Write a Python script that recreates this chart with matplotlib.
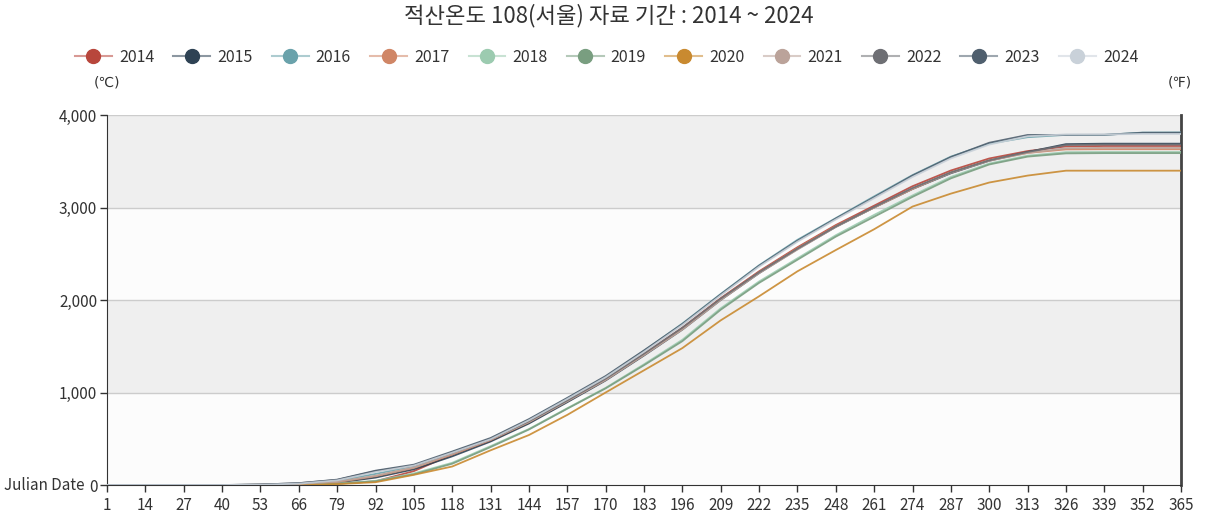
import numpy as np
import matplotlib
matplotlib.use('Agg')
import matplotlib.pyplot as plt
from matplotlib.lines import Line2D

plt.rcParams['font.family'] = ['Noto Sans CJK KR', 'DejaVu Sans']

# julian days read at the x tick positions
days = [1, 14, 27, 40, 53, 66, 79, 92, 105, 118, 131, 144, 157, 170, 183,
        196, 209, 222, 235, 248, 261, 274, 287, 300, 313, 326, 339, 352, 365]

years = ['2014', '2015', '2016', '2017', '2018', '2019',
         '2020', '2021', '2022', '2023', '2024']

# accumulated temperature (deg C days)
gdd_2014 = [0, 0, 0, 0, 0, 3, 15, 40, 150, 330, 480, 675, 905, 1140, 1420, 1700, 2020, 2310, 2570, 2810, 3020, 3230, 3400, 3530, 3610, 3660, 3665, 3665, 3665]
gdd_2015 = [0, 0, 0, 0, 2, 8, 25, 80, 170, 310, 470, 665, 895, 1130, 1400, 1680, 2000, 2290, 2550, 2790, 3000, 3200, 3370, 3505, 3600, 3685, 3690, 3690, 3690]
gdd_2016 = [0, 0, 0, 0, 3, 15, 45, 120, 205, 355, 500, 705, 935, 1170, 1450, 1745, 2065, 2375, 2650, 2885, 3120, 3350, 3550, 3690, 3760, 3785, 3785, 3810, 3812]
gdd_2017 = [0, 0, 0, 0, 2, 10, 30, 95, 185, 330, 485, 680, 910, 1140, 1410, 1690, 2010, 2300, 2560, 2800, 3000, 3200, 3380, 3510, 3590, 3628, 3630, 3630, 3630]
gdd_2018 = [0, 0, 0, 0, 1, 5, 15, 45, 125, 240, 420, 605, 830, 1050, 1305, 1570, 1910, 2200, 2450, 2700, 2920, 3130, 3330, 3475, 3560, 3598, 3600, 3600, 3600]
gdd_2019 = [0, 0, 0, 0, 1, 5, 12, 40, 115, 230, 410, 600, 825, 1045, 1295, 1555, 1895, 2185, 2435, 2685, 2900, 3115, 3315, 3465, 3550, 3585, 3588, 3588, 3588]
gdd_2020 = [0, 0, 0, 0, 1, 3, 10, 30, 110, 200, 375, 540, 758, 1000, 1240, 1480, 1780, 2040, 2310, 2540, 2765, 3010, 3150, 3270, 3345, 3398, 3398, 3398, 3398]
gdd_2021 = [0, 0, 0, 0, 3, 12, 35, 100, 190, 335, 490, 680, 905, 1135, 1405, 1680, 2000, 2290, 2545, 2790, 3000, 3205, 3375, 3505, 3590, 3640, 3645, 3645, 3645]
gdd_2022 = [0, 0, 0, 0, 5, 20, 55, 150, 210, 350, 495, 690, 915, 1150, 1420, 1700, 2015, 2300, 2555, 2795, 3005, 3210, 3380, 3510, 3600, 3675, 3680, 3680, 3680]
gdd_2023 = [0, 0, 0, 0, 5, 20, 58, 155, 220, 362, 508, 712, 942, 1178, 1455, 1740, 2060, 2370, 2640, 2880, 3110, 3345, 3545, 3700, 3784, 3785, 3786, 3808, 3808]
gdd_2024 = [0, 0, 0, 0, 3, 15, 50, 140, 210, 350, 495, 700, 930, 1165, 1440, 1730, 2050, 2360, 2630, 2870, 3100, 3330, 3530, 3680, 3770, 3790, 3790, 3795, 3795]

series = [gdd_2014, gdd_2015, gdd_2016, gdd_2017, gdd_2018, gdd_2019,
          gdd_2020, gdd_2021, gdd_2022, gdd_2023, gdd_2024]
colors = ['#b8463c', '#2e4254', '#6aa2ab', '#d08666', '#9ccbb0', '#799e80',
          '#c98a30', '#bba39a', '#6e6f74', '#4f5f6e', '#c9d1d9']

fig = plt.figure(figsize=(12.06, 5.17), dpi=100)
ax = fig.add_axes([107/1206, 1 - 485/517, (1181-107)/1206, (485-115)/517])

# alternating bands
for lo, hi, c in [(0, 1000, '#fcfcfc'), (1000, 2000, '#efefef'),
                  (2000, 3000, '#fcfcfc'), (3000, 4000, '#efefef')]:
    ax.axhspan(lo, hi, color=c, zorder=0, lw=0)
for yv in [1000, 2000, 3000, 4000]:
    ax.axhline(yv, color='#cccccc', lw=1.0, zorder=1)

for yr, vals, c in zip(years, series, colors):
    ax.plot(days, vals, color=c, lw=1.3, alpha=0.9, zorder=3)

ax.set_xlim(1, 365)
ax.set_ylim(0, 4000)
ax.set_xticks(days)
ax.set_xticklabels([str(d) for d in days])
ax.set_yticks([0, 1000, 2000, 3000, 4000])
ax.set_yticklabels(['0', '1,000', '2,000', '3,000', '4,000'])
ax.tick_params(axis='both', colors='#333333', labelsize=11, length=5, width=1)
ax.tick_params(axis='y', pad=2)
ax.spines['top'].set_visible(False)
ax.spines['left'].set_color('#333333')
ax.spines['bottom'].set_color('#333333')
ax.spines['right'].set_color('#444444')
ax.spines['right'].set_linewidth(2)

fig.text(85/1206, 1 - 485/517, 'Julian Date', ha='right', va='center',
         fontsize=11, color='#333333')
fig.text(107/1206, 1 - 82/517, '(℃)', ha='center', va='center',
         fontsize=10, color='#333333', family=['DejaVu Sans'])
fig.text(1180/1206, 1 - 82/517, '(℉)', ha='center', va='center',
         fontsize=10, color='#333333', family=['DejaVu Sans'])

fig.text(0.505, 1 - 16/517, '적산온도 108(서울) 자료 기간 : 2014 ~ 2024',
         ha='center', va='center', fontsize=16, color='#333333')

# legend: light line with a solid dot on top
handles = []
for c in colors:
    ln = Line2D([0], [0], color=c, lw=1.5, alpha=0.55)
    dot = Line2D([0], [0], color=c, lw=0, marker='o', markersize=10)
    handles.append((ln, dot))
fig.legend(handles, years, loc='center', bbox_to_anchor=(0.503, 1 - 57/517),
           ncol=11, frameon=False, fontsize=11.5, handlelength=2.3,
           columnspacing=1.2, handletextpad=0.45, labelcolor='#333333')

plt.savefig('out.png', dpi=100)
